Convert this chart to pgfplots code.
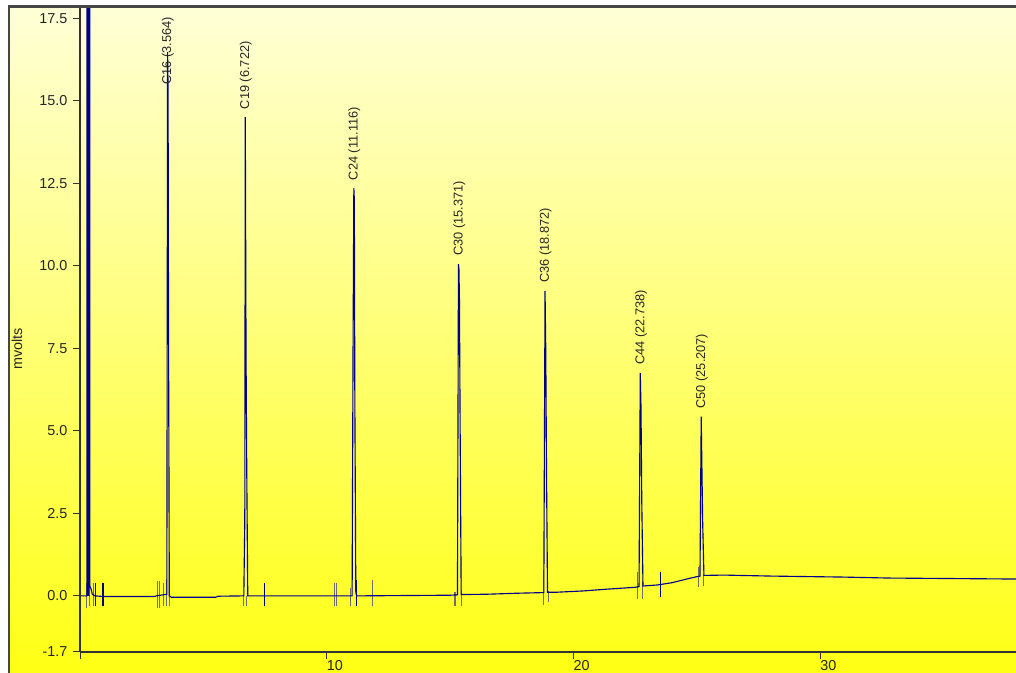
\documentclass[border=0pt]{standalone}
\usepackage{pgfplots}
\pgfplotsset{compat=1.18}
\usepackage{fontspec}
\setmainfont{Liberation Sans}
\definecolor{trace}{RGB}{0,0,140}
\definecolor{evmark}{RGB}{110,110,110}
\definecolor{framec}{RGB}{70,70,70}
\definecolor{bgtop}{RGB}{255,255,215}
\definecolor{bgbot}{RGB}{255,255,20}
\begin{document}
\begin{tikzpicture}
\useasboundingbox (0,0) rectangle (762pt,504.75pt);
\fill[white] (0,0) rectangle (762pt,504.75pt);
\shade[top color=bgtop, bottom color=bgbot] (6.75pt,0) rectangle (762pt,499.875pt);
\begin{axis}[
 at={(60pt,15.75pt)}, anchor=south west,
 width=702pt, height=483.75pt, scale only axis,
 xmin=0, xmax=37.94, ymin=-1.7, ymax=17.84,
 axis x line*=bottom, axis y line*=left,
 axis line style={draw=black!80, line width=0.9pt},
 tick align=outside, major tick length=5.5pt,
 tick style={draw=black!80, line width=0.75pt},
 xtick={0,10,20,30}, xticklabels={,10,20,30},
 ytick={-1.7,0,2.5,5,7.5,10,12.5,15,17.5},
 yticklabels={-1.7,0.0,2.5,5.0,7.5,10.0,12.5,15.0,17.5},
 ticklabel style={font=\fontsize{10.8}{12}\selectfont, text=black!85},
 xticklabel style={anchor=north west, inner sep=0pt, yshift=-0.8pt},
 yticklabel style={anchor=east, inner sep=0pt, xshift=-3.75pt},
 ylabel={mvolts},
 ylabel style={at={(axis description cs:-0.0673,0.47)}, anchor=center, font=\fontsize{10.8}{12}\selectfont, text=black!85},
 unbounded coords=jump,
]
% event markers (gray)
\addplot[evmark, line width=0.8pt] coordinates {
 (0.26,-0.36) (0.26,0.39) (0.26,nan)
 (0.38,-0.30) (0.38,0.48) (0.38,nan)
 (0.54,-0.30) (0.54,0.39) (0.54,nan)
 (3.14,-0.36) (3.14,0.45) (3.14,nan)
 (3.22,-0.36) (3.22,0.45) (3.22,nan)
 (3.37,-0.32) (3.37,0.40) (3.37,nan)
 (3.50,-0.32) (3.50,0.50) (3.50,nan)
 (3.62,-0.32) (3.62,0.50) (3.62,nan)
 (6.61,-0.32) (6.61,0.00) (6.61,nan)
 (6.74,-0.32) (6.74,0.00) (6.74,nan)
 (10.32,-0.32) (10.32,0.40) (10.32,nan)
 (10.39,-0.32) (10.39,0.40) (10.39,nan)
 (10.97,-0.32) (10.97,0.25) (10.97,nan)
 (11.84,-0.32) (11.84,0.48) (11.84,nan)
 (15.20,-0.32) (15.20,0.12) (15.20,nan)
 (15.46,-0.32) (15.46,0.18) (15.46,nan)
 (18.77,-0.27) (18.77,0.79) (18.77,nan)
 (19.00,-0.20) (19.00,0.15) (19.00,nan)
 (22.59,-0.09) (22.59,0.73) (22.59,nan)
 (22.81,-0.09) (22.81,0.45) (22.81,nan)
 (25.08,0.28) (25.08,0.89) (25.08,nan)
 (25.29,0.30) (25.29,0.65)
};
% event markers (blue)
\addplot[trace, line width=1pt] coordinates {
 (0.63,-0.32) (0.63,0.40) (0.63,nan)
 (0.93,-0.32) (0.93,0.39) (0.93,nan)
 (7.49,-0.32) (7.49,0.40) (7.49,nan)
 (11.20,-0.32) (11.20,0.48) (11.20,nan)
 (23.54,-0.02) (23.54,0.72)
};
% detector trace
\addplot[trace, line width=0.85pt, line join=miter] coordinates {
 (0.05,0) (0.28,0)
 (0.30,60) (0.32,0) (0.34,60) (0.36,0) (0.38,60) (0.40,0.3)
 (0.45,0.2) (0.50,0.05) (0.60,0) (1.0,-0.02) (3.0,-0.02) (3.1,0)
 (3.52,0.05) (3.55,16.47) (3.57,15.4) (3.59,7.7) (3.62,0)
 (3.70,-0.04) (5.5,-0.04) (5.6,-0.01)
 (6.64,0) (6.68,2.3) (6.70,14.5) (6.73,7.4) (6.76,3.7) (6.80,0)
 (11.03,0) (11.07,7.9) (11.10,12.35) (11.12,12.0) (11.14,6.0) (11.18,0.1) (11.22,0)
 (15.0,0.02) (15.30,0.03) (15.34,10.05) (15.36,9.9) (15.38,9.0) (15.41,4.9) (15.45,0.04)
 (16.5,0.05) (17.7,0.08)
 (18.80,0.10) (18.85,9.24) (18.88,7.4) (18.91,3.7) (18.95,0.11)
 (19.3,0.11) (20.4,0.15) (21.3,0.20) (22.5,0.26)
 (22.66,0.28) (22.71,6.75) (22.74,5.7) (22.77,2.9) (22.82,0.30)
 (23.4,0.33) (24.0,0.40) (24.7,0.53) (25.0,0.58)
 (25.13,0.60) (25.18,5.43) (25.21,3.8) (25.24,2.2) (25.29,0.62)
 (26.1,0.63) (28.0,0.60) (30.9,0.57) (32.8,0.54) (37.94,0.51)
};
\begin{scope}[every node/.style={rotate=90, anchor=west, inner sep=0pt, font=\fontsize{9.6}{11}\selectfont, text=black!85}]
\node at (axis cs:3.564,15.47) {C16 (3.564)};
\node at (axis cs:6.722,14.74) {C19 (6.722)};
\node at (axis cs:11.116,12.59) {C24 (11.116)};
\node at (axis cs:15.371,10.29) {C30 (15.371)};
\node at (axis cs:18.872,9.48) {C36 (18.872)};
\node at (axis cs:22.738,6.99) {C44 (22.738)};
\node at (axis cs:25.207,5.67) {C50 (25.207)};
\end{scope}
\end{axis}
\draw[framec, line width=1.6pt] (6.75pt,0) -- (6.75pt,499.875pt) -- (762pt,499.875pt);
\end{tikzpicture}
\end{document}
